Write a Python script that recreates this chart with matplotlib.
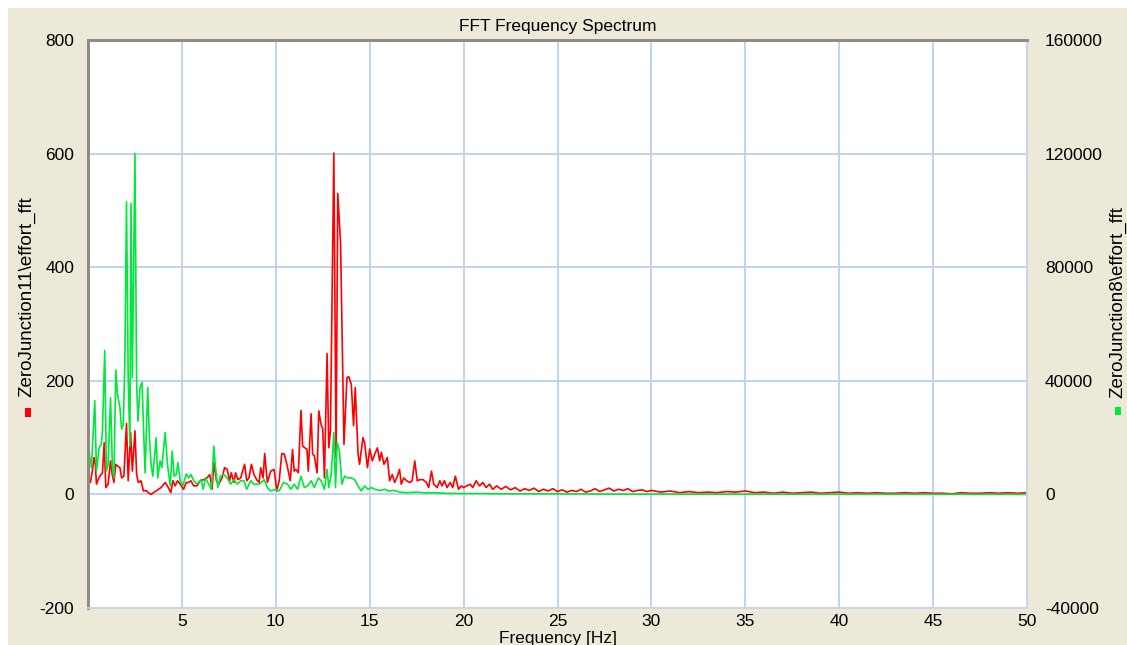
import matplotlib
matplotlib.use('Agg')
import matplotlib.pyplot as plt
from matplotlib.patches import Rectangle

plt.rcParams['font.family'] = ['Liberation Sans', 'DejaVu Sans']
plt.rcParams['axes.unicode_minus'] = False

# ZeroJunction11\effort_fft (left axis)
red_freq = [
    0.05, 0.13, 0.23, 0.32, 0.39, 0.45, 0.54, 0.63, 0.77, 0.86, 0.95, 1.07, 1.20, 1.29, 1.38,
    1.48, 1.57, 1.70, 1.79, 1.91, 2.05, 2.14, 2.27, 2.36, 2.50, 2.59, 2.68, 2.82, 2.95, 3.09,
    3.21, 3.36, 3.48, 3.63, 3.75, 3.89, 4.11, 4.23, 4.41, 4.52, 4.64, 4.77, 4.91, 5.09, 5.23,
    5.36, 5.48, 5.63, 5.80, 5.98, 6.16, 6.34, 6.48, 6.61, 6.70, 6.84, 6.96, 7.14, 7.27, 7.41,
    7.54, 7.63, 7.77, 7.86, 7.98, 8.13, 8.34, 8.45, 8.57, 8.70, 8.84, 8.98, 9.11, 9.20, 9.32,
    9.41, 9.55, 9.73, 9.91, 10.05, 10.18, 10.32, 10.45, 10.59, 10.77, 10.89, 10.98, 11.07, 11.20, 11.34,
    11.43, 11.55, 11.66, 11.73, 11.88, 11.96, 12.05, 12.20, 12.29, 12.41, 12.50, 12.59, 12.73, 12.82, 12.91,
    13.09, 13.21, 13.30, 13.45, 13.63, 13.79, 13.89, 14.02, 14.14, 14.23, 14.38, 14.46, 14.64, 14.73, 14.88,
    15.00, 15.14, 15.27, 15.41, 15.53, 15.62, 15.76, 15.94, 16.06, 16.20, 16.33, 16.47, 16.59, 16.68, 16.82,
    16.96, 17.14, 17.26, 17.40, 17.53, 17.67, 17.84, 18.02, 18.14, 18.29, 18.41, 18.59, 18.73, 18.85, 18.98,
    19.12, 19.29, 19.42, 19.56, 19.73, 19.88, 20.00, 20.18, 20.35, 20.49, 20.67, 20.85, 21.02, 21.20, 21.38,
    21.55, 21.77, 22.00, 22.25, 22.50, 22.75, 23.00, 23.25, 23.50, 23.75, 24.00, 24.25, 24.50, 24.75, 25.00,
    25.25, 25.50, 25.75, 26.00, 26.25, 26.50, 26.75, 27.00, 27.25, 27.50, 27.75, 28.00, 28.25, 28.50, 28.75,
    29.00, 29.25, 29.50, 29.75, 30.00, 30.50, 31.00, 31.50, 32.00, 32.50, 33.00, 33.50, 34.00, 34.50, 35.00,
    35.50, 36.00, 36.50, 37.00, 37.50, 38.00, 38.50, 39.00, 39.50, 40.00, 40.50, 41.00, 41.50, 42.00, 42.50,
    43.00, 43.50, 44.00, 44.50, 45.00, 45.50, 46.00, 46.50, 47.00, 47.50, 48.00, 48.50, 49.00, 49.50, 50.00,
]
red_amp = [
    29, 21, 41, 65, 53, 18, 26, 32, 38, 91, 12, 18, 59, 35, 21,
    53, 50, 47, 29, 32, 125, 24, 109, 41, 112, 35, 21, 24, 6, 7,
    3, 0, 3, 6, 9, 12, 21, 15, 3, 24, 15, 24, 18, 9, 21,
    21, 24, 15, 15, 24, 26, 29, 35, 9, 56, 24, 18, 29, 47, 44,
    24, 38, 21, 38, 26, 29, 53, 24, 29, 53, 35, 26, 21, 47, 29,
    72, 21, 41, 44, 6, 24, 72, 71, 53, 24, 79, 41, 44, 38, 148,
    85, 82, 79, 41, 142, 71, 68, 38, 147, 123, 115, 29, 248, 82, 112,
    601, 65, 530, 441, 88, 206, 207, 194, 121, 188, 71, 53, 100, 91, 47,
    80, 59, 71, 82, 59, 74, 53, 65, 24, 35, 21, 32, 44, 18, 29,
    24, 21, 24, 59, 24, 26, 26, 21, 12, 41, 18, 12, 24, 15, 24,
    12, 21, 12, 32, 9, 15, 12, 15, 18, 12, 24, 15, 21, 12, 18,
    9, 15, 9, 14, 8, 12, 6, 10, 7, 11, 5, 9, 6, 10, 5,
    8, 4, 7, 5, 9, 4, 6, 10, 5, 8, 11, 6, 9, 7, 10,
    5, 7, 8, 5, 7, 4, 6, 3, 5, 3, 4, 3, 5, 4, 6,
    3, 4, 2, 4, 2, 3, 4, 2, 3, 4, 2, 3, 2, 3, 2,
    2, 3, 2, 3, 2, 2, 1, 3, 2, 2, 3, 2, 3, 2, 3,
]

# ZeroJunction8\effort_fft (right axis)
green_freq = [
    0.05, 0.18, 0.36, 0.45, 0.59, 0.71, 0.77, 0.89, 0.98, 1.07, 1.20, 1.30, 1.38, 1.48, 1.57,
    1.70, 1.79, 1.88, 1.96, 2.05, 2.14, 2.23, 2.29, 2.36, 2.50, 2.59, 2.66, 2.77, 2.88, 2.95,
    3.04, 3.18, 3.27, 3.36, 3.45, 3.63, 3.71, 3.84, 3.93, 4.11, 4.23, 4.38, 4.48, 4.59, 4.70,
    4.79, 4.91, 5.05, 5.23, 5.36, 5.48, 5.63, 5.80, 6.02, 6.13, 6.25, 6.43, 6.57, 6.70, 6.79,
    6.91, 7.05, 7.23, 7.41, 7.59, 7.77, 7.95, 8.13, 8.30, 8.45, 8.66, 8.84, 9.11, 9.38, 9.55,
    9.73, 10.00, 10.18, 10.41, 10.63, 10.80, 10.98, 11.16, 11.34, 11.52, 11.70, 11.88, 12.05, 12.27, 12.41,
    12.59, 12.73, 12.82, 12.95, 13.09, 13.18, 13.27, 13.39, 13.52, 13.66, 13.84, 14.02, 14.20, 14.38, 14.55,
    14.73, 14.91, 15.09, 15.27, 15.54, 15.80, 16.00, 16.30, 16.60, 17.00, 17.50, 18.00, 18.50, 19.00, 20.00,
    21.00, 22.00, 24.00, 26.00, 28.00, 30.00, 35.00, 40.00, 45.00, 50.00,
]
green_amp = [
    15200, 9400, 33000, 8200, 16400, 17600, 22400, 50600, 8200, 10600, 34000, 9400, 5800, 43800, 35200,
    30600, 23000, 24600, 45800, 103000, 41200, 17000, 102400, 41200, 120000, 38800, 25800, 37600, 39400, 24600,
    7600, 37600, 20000, 10600, 6400, 20000, 5800, 11800, 9400, 21800, 10600, 3000, 15200, 6400, 7000,
    11200, 4800, 3000, 7200, 5800, 7000, 4800, 3600, 5200, 1800, 5800, 3600, 1800, 17000, 9400,
    2400, 6400, 7000, 5800, 3600, 5200, 3600, 4800, 4800, 1800, 4800, 3600, 3600, 5200, 2400,
    1200, 1800, 1200, 4200, 3600, 1800, 3600, 1800, 6400, 2400, 3000, 4800, 2400, 5800, 4800,
    1800, 8800, 2400, 7000, 21800, 2400, 18200, 15200, 3600, 6400, 5800, 5800, 5200, 3000, 1200,
    3000, 1800, 2400, 1800, 1400, 1800, 1200, 1400, 800, 600, 800, 500, 600, 400, 300,
    300, 200, 200, 150, 100, 100, 80, 60, 50, 40,
]

left_ticks = [-200, 0, 200, 400, 600, 800]
right_ticks = [-40000, 0, 40000, 80000, 120000, 160000]
x_ticks = [5, 10, 15, 20, 25, 30, 35, 40, 45, 50]

W, H = 1127, 645
fig = plt.figure(figsize=(W / 100, H / 100), dpi=100)
fig.patch.set_facecolor('white')
fig.patches.append(Rectangle((8 / W, 0), 1, (H - 8) / H, transform=fig.transFigure,
                             facecolor='#ece9d8', edgecolor='none', zorder=-10))

ax = fig.add_axes([88 / W, 1 - 608 / H, (1027 - 88) / W, (608 - 40) / H])
ax.set_facecolor('white')
grid_col = '#b9d1ee'
ax.set_xlim(0, 50)
ax.set_ylim(-200, 800)
ax.set_xticks(x_ticks)
ax.set_yticks(left_ticks)
ax.grid(True, color=grid_col, lw=1.3)
ax.set_axisbelow(True)
ax.tick_params(length=0, labelsize=12.5, colors='black')
ax.tick_params(axis='x', pad=4)
ax.tick_params(axis='y', pad=10)
ax.plot(red_freq, red_amp, color='#ff0000', lw=1.2)

ax2 = ax.twinx()
ax2.set_ylim(-40000, 160000)
ax2.set_yticks(right_ticks)
ax2.tick_params(length=0, labelsize=12.5, pad=13)
ax2.plot(green_freq, green_amp, color='#00e83a', lw=1.2)
ax2.patch.set_visible(False)

for a in (ax, ax2):
    a.spines['left'].set_color('#8e8c82')
    a.spines['top'].set_color('#8e8c82')
    a.spines['left'].set_linewidth(2)
    a.spines['top'].set_linewidth(2)
    a.spines['right'].set_color('#c9d6e6')
    a.spines['bottom'].set_color('#c9d6e6')
    a.spines['right'].set_linewidth(1.3)
    a.spines['bottom'].set_linewidth(1.3)

fig.text(558 / W, 1 - 27 / H, 'FFT Frequency Spectrum', ha='center', va='center', fontsize=12.5)
fig.text(558 / W, 1 - 638 / H, 'Frequency [Hz]', ha='center', va='center', fontsize=12.5)

fig.text(27 / W, 1 - 297 / H, 'ZeroJunction11\\effort_fft', rotation=90,
         ha='center', va='center', fontsize=13.5)
fig.patches.append(Rectangle((25 / W, 1 - 417 / H), 6 / W, 9 / H, transform=fig.transFigure,
                             facecolor='#ff0000', edgecolor='none'))
fig.text(1118 / W, 1 - 302 / H, 'ZeroJunction8\\effort_fft', rotation=90,
         ha='center', va='center', fontsize=13.5)
fig.patches.append(Rectangle((1115 / W, 1 - 415 / H), 6 / W, 8 / H, transform=fig.transFigure,
                             facecolor='#00e83a', edgecolor='none'))

fig.savefig('out.png', dpi=100)
